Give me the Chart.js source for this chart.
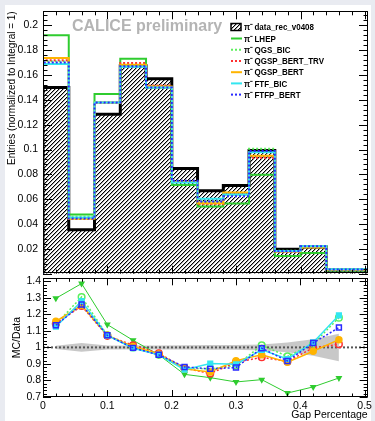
<!DOCTYPE html>
<html><head><meta charset="utf-8">
<script src="https://cdn.jsdelivr.net/npm/chart.js@4/dist/chart.umd.min.js"></script>
<style>
html,body{margin:0;padding:0;background:#e9ebf1;width:375px;height:421px;overflow:hidden;position:relative;}
#paper{position:absolute;left:5px;top:5px;width:366px;height:416px;background:#fff;}
canvas{position:absolute;left:0;}
#c1{top:0}
#c2{top:270px}
</style></head><body>
<div id="paper"></div>
<canvas id="c1" width="375" height="285"></canvas>
<canvas id="c2" width="375" height="151"></canvas>
<script>
// ---- data ----
const binEdges = [0, 0.04, 0.08, 0.12, 0.16, 0.20, 0.24, 0.28, 0.32, 0.36, 0.40, 0.44, 0.48, 0.52];
const dataRec   = [0.1500, 0.0353, 0.1284, 0.1675, 0.1570, 0.0848, 0.0668, 0.0710, 0.0993, 0.0196, 0.0216, 0.0030, 0.0030];
const lhep      = [0.1920, 0.0476, 0.1447, 0.1730, 0.1500, 0.0714, 0.0542, 0.0565, 0.0797, 0.0142, 0.0166, 0.0025, 0.0025];
const qgsBic    = [0.1710, 0.0461, 0.1378, 0.1675, 0.1500, 0.0742, 0.0581, 0.0632, 0.1006, 0.0185, 0.0220, 0.0035, 0.0035];
const qgspTrv   = [0.1718, 0.0441, 0.1374, 0.1697, 0.1515, 0.0742, 0.0562, 0.0646, 0.0933, 0.0179, 0.0215, 0.0031, 0.0031];
const qgspBert  = [0.1737, 0.0443, 0.1378, 0.1683, 0.1507, 0.0738, 0.0568, 0.0653, 0.0949, 0.0178, 0.0211, 0.0031, 0.0031];
const ftfBic    = [0.1688, 0.0452, 0.1378, 0.1667, 0.1500, 0.0734, 0.0603, 0.0638, 0.0978, 0.0182, 0.0222, 0.0036, 0.0036];
const ftfpBert  = [0.1701, 0.0444, 0.1378, 0.1670, 0.1500, 0.0748, 0.0581, 0.0623, 0.0988, 0.0180, 0.0222, 0.0034, 0.0034];

const ratioX        = [0.02, 0.06, 0.10, 0.14, 0.18, 0.22, 0.26, 0.30, 0.34, 0.38, 0.42, 0.46];
const rLhep         = [1.297, 1.386, 1.138, 1.043, 0.955, 0.837, 0.817, 0.791, 0.805, 0.724, 0.761, 0.815];
const rQgsBic       = [1.140, 1.305, 1.073, 1.000, 0.955, 0.875, 0.870, 0.890, 1.013, 0.946, 1.020, 1.180];
const rQgspTrv      = [1.145, 1.250, 1.070, 1.013, 0.965, 0.875, 0.842, 0.910, 0.940, 0.915, 0.997, 1.019];
const rQgspBert     = [1.158, 1.255, 1.073, 1.005, 0.960, 0.870, 0.851, 0.920, 0.956, 0.910, 0.977, 1.047];
const rFtfBic       = [1.125, 1.280, 1.073, 0.995, 0.955, 0.865, 0.902, 0.898, 0.985, 0.930, 1.030, 1.194];
const rFtfpBert     = [1.134, 1.259, 1.073, 0.997, 0.955, 0.882, 0.870, 0.878, 0.995, 0.918, 1.027, 1.120];
const bandUp        = [1.010, 1.027, 1.012, 1.012, 1.012, 1.013, 1.014, 1.014, 1.018, 1.030, 1.050, 1.083];
const bandLo        = [0.990, 0.973, 0.988, 0.988, 0.988, 0.987, 0.986, 0.986, 0.982, 0.970, 0.950, 0.917];

const xTicksLabels = [0, 0.1, 0.2, 0.3, 0.4, 0.5];
const seriesNames = ['data_rec_v0408','LHEP','QGS_BIC','QGSP_BERT_TRV','QGSP_BERT','FTF_BIC','FTFP_BERT'];

// ---- styling ----
const X_MAX = 0.5047;
const COL = {lhep:'#2fcc2f', qgsBic:'#5cf05c', trv:'#ff3030', bert:'#ffb400', ftfBic:'#33e6f0', ftfp:'#2a2aff'};
const FONT = 'Liberation Sans, Arial, sans-serif';

function fmt(v){ return String(Math.round(v*1000)/1000); }
function histPoints(vals){
  const p = [{x:binEdges[0], y:0}];
  vals.forEach((v,i)=>p.push({x:binEdges[i], y:v}));
  p.push({x:binEdges[vals.length], y:vals[vals.length-1]});
  p.push({x:binEdges[vals.length], y:0});
  return p;
}
function pts(ys){ return ratioX.map((x,i)=>({x, y:ys[i]})); }
function makeHatch(){
  const t=document.createElement('canvas'); t.width=4; t.height=4;
  const g=t.getContext('2d'); g.fillStyle='#fff'; g.fillRect(0,0,4,4);
  g.fillStyle='#a8a8a8'; for(let i=0;i<4;i++){ g.fillRect(i,(4-i)%4,1,1); }
  g.fillStyle='#000'; for(let i=0;i<4;i++){ g.fillRect(i,3-i,1,1); }
  return g.createPattern(t,'repeat');
}
const hatch = makeHatch();

function framePlugin(cfg){
  return {id:'frame'+cfg.id, afterDraw(chart){
    const {ctx, chartArea:a} = chart; const xs=chart.scales.x, ys=chart.scales.y;
    ctx.save(); ctx.strokeStyle='#000'; ctx.lineWidth=1;
    ctx.beginPath();
    for(let k=0;;k++){
      const v=k*cfg.xMinor; if(v>xs.max+1e-9) break;
      const px=Math.round(xs.getPixelForValue(v))+0.5;
      const L=(k%cfg.xEvery===0)?cfg.xMaj:cfg.xMin;
      ctx.moveTo(px,a.bottom); ctx.lineTo(px,a.bottom-L);
      ctx.moveTo(px,a.top); ctx.lineTo(px,a.top+L);
    }
    for(let k=0;;k++){
      const v=cfg.yStart+k*cfg.yMinor; if(v>ys.max+1e-9) break;
      const py=Math.round(ys.getPixelForValue(v))+0.5;
      const L=(k%cfg.yEvery===0)?cfg.yMaj:cfg.yMin;
      ctx.moveTo(a.left,py); ctx.lineTo(a.left+L,py);
      ctx.moveTo(a.right,py); ctx.lineTo(a.right-L,py);
    }
    ctx.stroke();
    ctx.strokeRect(Math.round(a.left)+0.5, Math.round(a.top)+0.5, Math.round(a.right-a.left)-1, Math.round(a.bottom-a.top)-1);
    ctx.restore();
  }};
}

const overlayPlugin = {id:'overlay', afterDraw(chart){
  const ctx=chart.ctx; ctx.save();
  ctx.font='bold 16px '+FONT; ctx.fillStyle='#b4b4b4'; ctx.textBaseline='middle'; ctx.textAlign='left';
  ctx.fillText('CALICE preliminary', 72, 27);
  const rowsY=[27,38.5,49.8,61,72.2,83.4,94.6];
  const ds = chart.data.datasets;
  ds.forEach((d,i)=>{
    const y=rowsY[i];
    if(i===0){
      ctx.fillStyle=hatch; ctx.fillRect(231,y-3.5,10,7);
      ctx.strokeStyle='#000'; ctx.lineWidth=1.5; ctx.strokeRect(231,y-3.5,10,7);
    } else {
      ctx.strokeStyle=d.borderColor; ctx.lineWidth=2; ctx.setLineDash(d.borderDash||[]);
      ctx.beginPath(); ctx.moveTo(231,y); ctx.lineTo(242,y); ctx.stroke(); ctx.setLineDash([]);
    }
    ctx.fillStyle='#000'; ctx.textBaseline='middle';
    ctx.save(); ctx.translate(244, y+0.5); ctx.scale(0.84,1);
    ctx.font='bold 9.5px '+FONT;
    ctx.fillText('\u03c0\u207b', 0, 0);
    ctx.fillText(d.label, 12.5, 0);
    ctx.restore();
  });
  ctx.restore();
}};

const DOT=[2,2];
function histDs(label, vals, color, dash, order){
  return {label, data:histPoints(vals), stepped:'before', borderColor:color, borderWidth:2,
          borderDash:dash, fill:false, pointRadius:0, order};
}

new Chart(document.getElementById('c1'), {
  type:'line',
  data:{datasets:[
    {label:seriesNames[0], data:histPoints(dataRec), stepped:'before', borderColor:'#000', borderWidth:3,
     fill:'origin', backgroundColor:hatch, pointRadius:0, order:10},
    histDs(seriesNames[1], lhep, COL.lhep, [], 6),
    histDs(seriesNames[2], qgsBic, COL.qgsBic, DOT, 5),
    histDs(seriesNames[3], qgspTrv, COL.trv, DOT, 4),
    histDs(seriesNames[4], qgspBert, COL.bert, [], 3),
    histDs(seriesNames[5], ftfBic, COL.ftfBic, [], 2),
    histDs(seriesNames[6], ftfpBert, COL.ftfp, DOT, 1)
  ]},
  options:{responsive:false, animation:false, devicePixelRatio:1,
    layout:{padding:{left:0,right:7,top:6,bottom:6}},
    plugins:{legend:{display:false}, tooltip:{enabled:false}},
    scales:{
      x:{type:'linear', min:0, max:X_MAX, display:false},
      y:{min:0, max:0.2113, grid:{display:false, drawTicks:false}, border:{display:false},
         ticks:{stepSize:0.02, includeBounds:false, padding:5, color:'#000', font:{family:FONT,size:10.5},
                callback:v=> v<1e-9 ? '' : fmt(v)},
         title:{display:true, text:'Entries (normalized to Integral = 1)', align:'end', color:'#000',
                font:{family:FONT,size:10}, padding:{top:6,bottom:0}},
         afterFit:s=>{s.width=43;}}
    }
  },
  plugins:[framePlugin({id:1,xMinor:0.02,xEvery:5,xMaj:8,xMin:4,yStart:0,yMinor:0.004,yEvery:5,yMaj:9,yMin:4.5}), overlayPlugin]
});

function ratioDs(label, ys, color, width, dash, style, radius, filled, order, rot){
  return {label, data:pts(ys), borderColor:color, borderWidth:width, borderDash:dash, fill:false,
          pointStyle:style, pointRadius:radius, pointRotation:rot||0,
          pointBackgroundColor: filled?color:'rgba(0,0,0,0)', pointBorderColor:color, pointBorderWidth:1.5, order};
}

new Chart(document.getElementById('c2'), {
  type:'line',
  data:{datasets:[
    {label:'bandUp', data:pts(bandUp), borderWidth:0, pointRadius:0, fill:'+1', backgroundColor:'rgba(190,190,190,0.85)', order:20},
    {label:'bandLo', data:pts(bandLo), borderWidth:0, pointRadius:0, fill:false, order:21},
    {label:'unity', data:[{x:0,y:1},{x:X_MAX,y:1}], borderColor:'#555', borderWidth:2, borderDash:[2,2], pointRadius:0, fill:false, order:15},
    ratioDs('LHEP', rLhep, COL.lhep, 1, [], 'triangle', 2.5, true, 6, 180),
    ratioDs('QGS_BIC', rQgsBic, COL.qgsBic, 1.5, DOT, 'circle', 3.3, false, 5),
    ratioDs('QGSP_BERT_TRV', rQgspTrv, COL.trv, 1.5, DOT, 'circle', 3.3, false, 4),
    ratioDs('QGSP_BERT', rQgspBert, COL.bert, 1.5, [], 'circle', 3, true, 3),
    ratioDs('FTF_BIC', rFtfBic, COL.ftfBic, 1.5, [], 'rect', 3.3, true, 2),
    ratioDs('FTFP_BERT', rFtfpBert, COL.ftfp, 1.5, DOT, 'rect', 3.5, false, 1)
  ]},
  options:{responsive:false, animation:false, devicePixelRatio:1,
    layout:{padding:{left:0,right:7,top:8,bottom:0}},
    plugins:{legend:{display:false}, tooltip:{enabled:false}},
    scales:{
      x:{type:'linear', min:0, max:X_MAX, grid:{display:false, drawTicks:false}, border:{display:false},
         afterBuildTicks:s=>{ s.ticks = xTicksLabels.map(v=>({value:v})); },
         ticks:{padding:3, color:'#000', font:{family:FONT,size:10.5}, maxRotation:0, autoSkip:false, callback:v=>fmt(v)},
         title:{display:true, text:'Gap Percentage', align:'end', color:'#000', font:{family:FONT,size:10.5}, padding:{top:0,bottom:0}},
         afterFit:s=>{s.height=24;}},
      y:{min:0.7, max:1.418, grid:{display:false, drawTicks:false}, border:{display:false},
         ticks:{stepSize:0.1, includeBounds:false, padding:2, color:'#000', font:{family:FONT,size:10.5}, callback:v=>fmt(v)},
         title:{display:true, text:'MC/Data', align:'center', color:'#000', font:{family:FONT,size:10.5}, padding:{top:11,bottom:0}},
         afterFit:s=>{s.width=43;}}
    }
  },
  plugins:[framePlugin({id:2,xMinor:0.02,xEvery:5,xMaj:7,xMin:3.5,yStart:0.7,yMinor:0.02,yEvery:5,yMaj:8,yMin:4})]
});
</script>
</body></html>
